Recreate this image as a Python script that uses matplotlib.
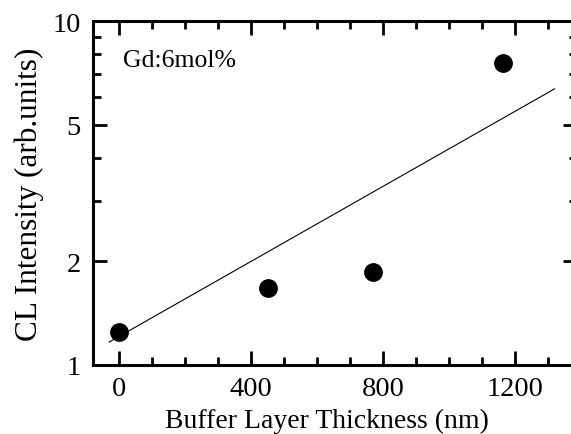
import numpy as np
import matplotlib.pyplot as plt
from matplotlib.ticker import FixedLocator, NullFormatter, MultipleLocator

# data
thickness = [0, 450, 770, 1165]          # nm
intensity = [1.25, 1.67, 1.86, 7.55]     # arb. units

# fitted line end points
fit_x = [-30, 1320]
fit_y = [1.166, 6.35]

plt.rcParams['font.family'] = ['Liberation Serif', 'DejaVu Serif']

fig = plt.figure(figsize=(5.71, 4.35), dpi=100)
ax = fig.add_axes([93 / 571, 1 - 366 / 435, (577 - 93) / 571, (366 - 22) / 435])

ax.plot(thickness, intensity, 'o', color='black', markersize=12.5)
ax.plot(fit_x, fit_y, color='black', linewidth=0.8)

ax.set_yscale('log')
ax.set_xlim(-79, 1388)
ax.set_ylim(1, 10)

ax.xaxis.set_major_locator(MultipleLocator(400))
ax.xaxis.set_minor_locator(MultipleLocator(100))
ax.yaxis.set_major_locator(FixedLocator([1, 2, 5, 10]))
ax.yaxis.set_minor_locator(FixedLocator([3, 4, 6, 7, 8, 9]))
ax.yaxis.set_major_formatter(plt.FuncFormatter(lambda v, p: '%d' % v))
ax.yaxis.set_minor_formatter(NullFormatter())

ax.tick_params(which='both', direction='in', top=True, right=True,
               width=2, labelsize=20.5)
ax.tick_params(axis='x', pad=8)
ax.tick_params(axis='y', pad=9)
ax.tick_params(which='major', length=10)
ax.tick_params(which='minor', length=6)
for s in ax.spines.values():
    s.set_linewidth(2.2)

ax.set_xlabel('Buffer Layer Thickness (nm)', fontsize=20, va='baseline')
ax.xaxis.set_label_coords(0.483, -0.180)
ax.set_ylabel('CL Intensity (arb.units)', fontsize=22.5, labelpad=6)
fig.text(123 / 571, 1 - 67 / 435, 'Gd:6mol%', fontsize=18.5,
         va='baseline', ha='left')

fig.savefig('out.png', dpi=100)
